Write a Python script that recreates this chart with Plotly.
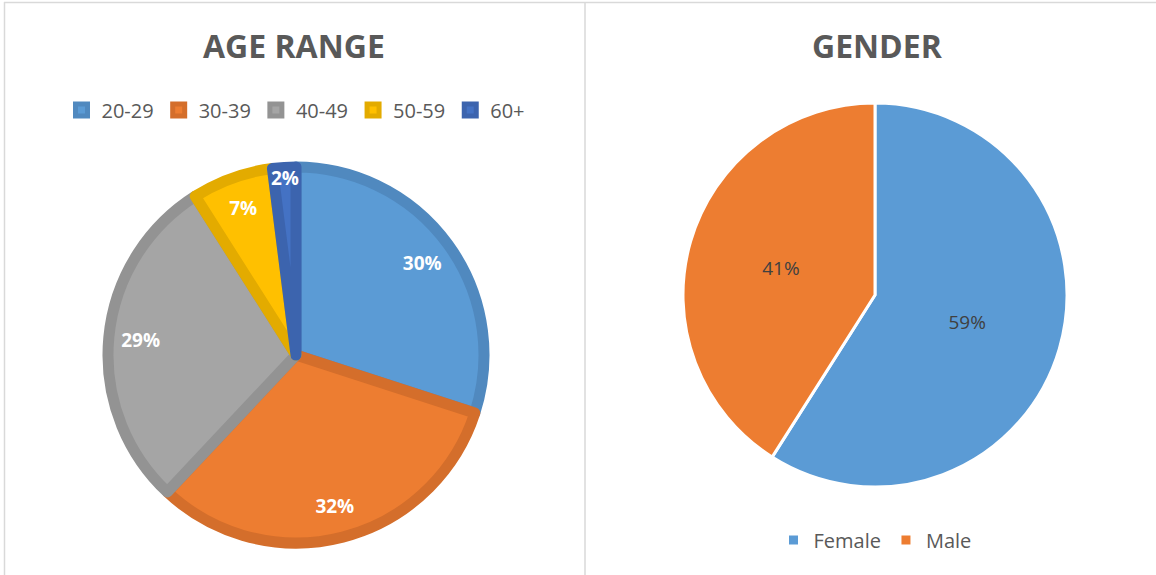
import plotly.graph_objects as go

W, H = 1156, 575

age_labels = ["20-29", "30-39", "40-49", "50-59", "60+"]
age_values = [30, 32, 29, 7, 2]
age_colors = ["#5B9BD5", "#ED7D31", "#A5A5A5", "#FFC000", "#4472C4"]
age_edges = ["#5089BF", "#D46E2B", "#939393", "#E3AB00", "#3C64AE"]

gender_labels = ["Female", "Male"]
gender_values = [59, 41]
gender_colors = ["#5B9BD5", "#ED7D31"]

FONT = "Open Sans"
GREY = "#595959"

def px_x(x):
    return x / W

def px_y(y):
    return 1 - y / H

age_dom = dict(x=[px_x(107), px_x(485)], y=[px_y(543), px_y(167)])

fig = go.Figure()

# age pie: fills and bevel-like darker edges
fig.add_trace(go.Pie(
    labels=age_labels, values=age_values, sort=False, direction="clockwise",
    marker=dict(colors=age_colors, line=dict(color=age_edges, width=11)),
    textinfo="none",
    domain=age_dom, legend="legend", hoverinfo="label+percent",
))
# transparent ring carrying the percentage labels near the rim
fig.add_trace(go.Pie(
    labels=age_labels, values=age_values, sort=False, direction="clockwise",
    hole=0.66, showlegend=False,
    marker=dict(colors=["rgba(0,0,0,0)"] * len(age_values), line=dict(width=0)),
    texttemplate="%{percent:.0%}", textposition="inside",
    insidetextorientation="horizontal",
    textfont=dict(family=FONT, size=19, color="white", weight="bold"),
    domain=age_dom, hoverinfo="skip",
))

fig.add_trace(go.Pie(
    labels=gender_labels, values=gender_values, sort=False, direction="clockwise",
    marker=dict(colors=gender_colors, line=dict(color="white", width=3)),
    texttemplate="%{percent:.0%}", textposition="inside",
    insidetextorientation="horizontal",
    textfont=dict(family=FONT, size=19, color="#404040"),
    domain=dict(x=[px_x(683), px_x(1067)], y=[px_y(487), px_y(103)]),
    legend="legend2", hoverinfo="label+percent",
))

fig.update_layout(
    width=W, height=H,
    margin=dict(l=0, r=0, t=0, b=0),
    paper_bgcolor="white", plot_bgcolor="white",
    font=dict(family=FONT, color=GREY),
    uniformtext=dict(minsize=19, mode="show"),
    legend=dict(
        orientation="h", x=px_x(296), xanchor="center", y=px_y(110), yanchor="middle",
        font=dict(family=FONT, size=20, color=GREY), itemwidth=30,
        traceorder="normal", bgcolor="rgba(0,0,0,0)",
    ),
    legend2=dict(
        orientation="h", x=px_x(875), xanchor="center", y=px_y(540), yanchor="middle",
        font=dict(family=FONT, size=20, color=GREY), itemwidth=30,
        traceorder="normal", bgcolor="rgba(0,0,0,0)",
    ),
    annotations=[
        dict(text="<b>AGE RANGE</b>", x=px_x(294), y=px_y(46), xref="paper", yref="paper",
             xanchor="center", yanchor="middle", showarrow=False,
             font=dict(family=FONT, size=32, color=GREY)),
        dict(text="<b>GENDER</b>", x=px_x(877), y=px_y(46), xref="paper", yref="paper",
             xanchor="center", yanchor="middle", showarrow=False,
             font=dict(family=FONT, size=32, color=GREY)),
    ],
    shapes=[
        dict(type="line", xref="paper", yref="paper", x0=px_x(4), x1=1, y0=px_y(2.5), y1=px_y(2.5),
             line=dict(color="#D9D9D9", width=1.5)),
        dict(type="line", xref="paper", yref="paper", x0=px_x(4.5), x1=px_x(4.5), y0=0, y1=px_y(2),
             line=dict(color="#D9D9D9", width=1.5)),
        dict(type="line", xref="paper", yref="paper", x0=px_x(585), x1=px_x(585), y0=0, y1=px_y(2),
             line=dict(color="#D9D9D9", width=1.5)),
    ],
)

fig.write_html("out.html", config={"displayModeBar": False},
               post_script="document.body.style.margin='0';")
